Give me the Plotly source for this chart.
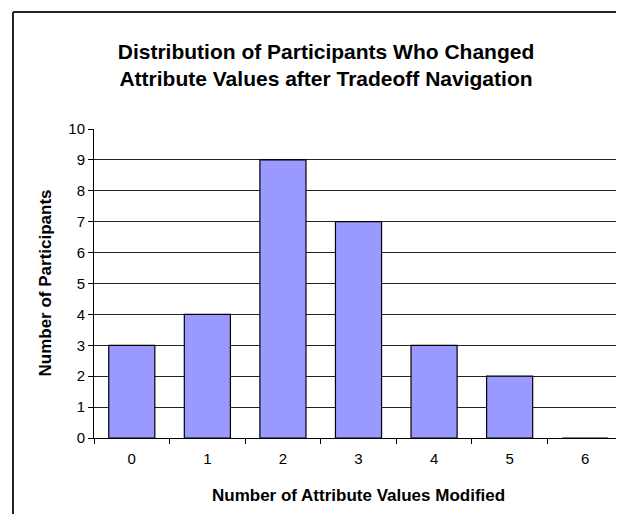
import plotly.graph_objects as go

categories = ["0", "1", "2", "3", "4", "5", "6"]
participants = [3, 4, 9, 7, 3, 2, 0]
y_ticks = list(range(0, 11))

title_text = "Distribution of Participants Who Changed<br>Attribute Values after Tradeoff Navigation"
x_title = "Number of Attribute Values Modified"
y_title = "Number of Participants"

FONT = "Liberation Sans, Arial, sans-serif"

fig = go.Figure()
fig.add_trace(go.Bar(
    x=categories, y=participants,
    marker=dict(color="#9999FF", line=dict(color="#000000", width=1.2)),
    width=0.61,
))

W, H = 624, 514
L, R, T, B = 86, 9, 121, 84
pw, ph = W - L - R, H - T - B

fig.update_layout(
    width=W, height=H,
    margin=dict(l=L, r=R, t=T, b=B, autoexpand=False),
    paper_bgcolor="white", plot_bgcolor="white",
    font=dict(family=FONT, color="black"),
    showlegend=False,
    title=dict(text="<b>" + title_text + "</b>", x=318 / W, xanchor="center",
               y=1 - 51 / H, yanchor="middle",
               font=dict(size=21, family=FONT, color="black")),
    xaxis=dict(
        type="category", showgrid=False, showline=True, linecolor="black", linewidth=1,
        ticks="outside", tickson="boundaries", ticklen=5, tickcolor="black",
        tickfont=dict(size=15, family=FONT), ticklabelstandoff=7,
    ),
    yaxis=dict(
        range=[0, 10], tickvals=y_ticks, showgrid=True, gridcolor="#222222", gridwidth=1,
        showline=True, linecolor="black", linewidth=1, zeroline=False,
        ticks="outside", ticklen=5, tickcolor="black",
        tickfont=dict(size=15, family=FONT),
    ),
    bargap=0.39,
)

# axis titles
fig.add_annotation(text="<b>" + x_title + "</b>", xref="paper", yref="paper",
                   x=0.5, y=(H - B - 487) / ph, xanchor="center", yanchor="middle",
                   showarrow=False, font=dict(size=17, family=FONT, color="black"))
fig.add_annotation(text="<b>" + y_title + "</b>", xref="paper", yref="paper",
                   x=(37 - L) / pw, y=0.5, xanchor="center", yanchor="middle",
                   textangle=-90, showarrow=False,
                   font=dict(size=17, family=FONT, color="black"))

# plot area right border (gray) and outer chart frame (top/left visible)
fig.add_shape(type="line", xref="paper", yref="paper", x0=1, x1=1, y0=0, y1=1,
              line=dict(color="#999999", width=2))
fx0 = (5 - L) / pw
fy1 = (H - B - 4) / ph
fig.add_shape(type="line", xref="paper", yref="paper", x0=fx0, x1=1.2, y0=fy1, y1=fy1,
              line=dict(color="#222222", width=2))
fig.add_shape(type="line", xref="paper", yref="paper", x0=fx0, x1=fx0, y0=-0.5, y1=fy1,
              line=dict(color="#222222", width=2))

fig.write_html("out.html")
